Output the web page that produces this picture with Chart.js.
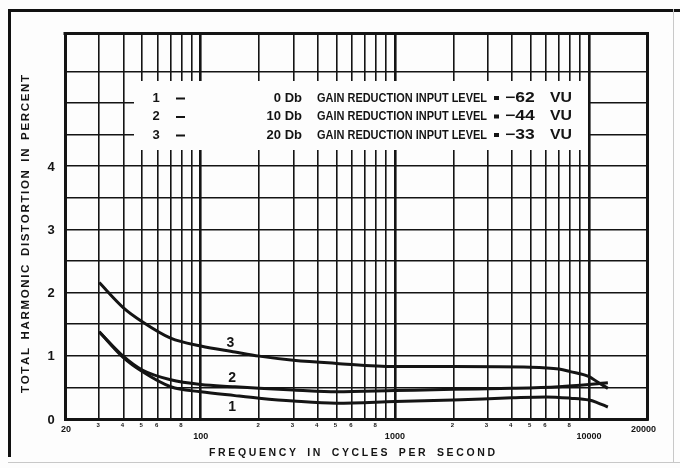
<!DOCTYPE html>
<html>
<head>
<meta charset="utf-8">
<script src="https://cdn.jsdelivr.net/npm/chart.js@4/dist/chart.umd.min.js"></script>
<style>
  html, body { margin: 0; padding: 0; background: #ffffff; }
  #wrap { width: 680px; height: 468px; position: relative; }
  canvas { display: block; }
</style>
</head>
<body>
<div id="wrap"><canvas id="c" width="680" height="468"></canvas></div>
<script>
// ---- data ----
const freqs1 = [30, 40, 50, 70, 100, 150, 200, 300, 500, 1000, 2000, 4000, 6000, 8000, 10000, 11000, 12500];
const thd1   = [1.38, 0.97, 0.75, 0.51, 0.43, 0.37, 0.33, 0.285, 0.25, 0.275, 0.30, 0.335, 0.35, 0.33, 0.30, 0.26, 0.19];

const freqs2 = [30, 40, 50, 70, 100, 150, 200, 300, 500, 1000, 2000, 4000, 7000, 10000, 12500];
const thd2   = [1.38, 0.99, 0.775, 0.62, 0.545, 0.51, 0.485, 0.46, 0.43, 0.45, 0.47, 0.485, 0.51, 0.545, 0.575];

const freqs3 = [30, 40, 50, 70, 100, 150, 200, 300, 500, 1000, 2000, 5000, 7000, 8000, 10000, 11000, 12500];
const thd3   = [2.16, 1.76, 1.54, 1.28, 1.155, 1.06, 0.995, 0.93, 0.88, 0.83, 0.83, 0.82, 0.79, 0.75, 0.67, 0.59, 0.485];

const curveNames = ['1', '2', '3'];
const curveLabelFreq = [145, 145, 142];
const curveLabelVal = [0.195, 0.64, 1.20];

const legendGain = ['0 Db', '10 Db', '20 Db'];
const legendText = 'GAIN REDUCTION INPUT LEVEL';
const legendLevel = ['\u221262', '\u221244', '\u221233'];
const legendUnit = 'VU';

const xGridVals = [20, 30, 40, 50, 60, 70, 80, 90, 100, 200, 300, 400, 500, 600, 700, 800, 900, 1000,
                   2000, 3000, 4000, 5000, 6000, 7000, 8000, 9000, 10000, 20000];
const majorXVals = [20, 100, 1000, 10000, 20000];
const majorXLabels = ['20', '100', '1000', '10000', '20000'];
const minorXVals = [30, 40, 50, 60, 80, 200, 300, 400, 500, 600, 800, 2000, 3000, 4000, 5000, 6000, 8000];
const minorXLabels = ['3', '4', '5', '6', '8', '2', '3', '4', '5', '6', '8', '2', '3', '4', '5', '6', '8'];
const yGridVals = [0, 0.5, 1, 1.5, 2, 2.5, 3, 3.5, 4, 4.5, 5, 5.5];
const yLabelVals = [0, 1, 2, 3, 4];
const yLabels = ['0', '1', '2', '3', '4'];

const xTitle = 'FREQUENCY IN CYCLES PER SECOND';
const yTitle = 'TOTAL HARMONIC DISTORTION IN PERCENT';

// ---- helpers ----
const INK = '#141414';
const FONT = '"Liberation Sans", Arial, sans-serif';

function spaced(ctx, text, x0, x1, y, spaceWeight) {
  const chars = [...text];
  const widths = chars.map(c => ctx.measureText(c).width);
  const total = widths.reduce((a, b) => a + b, 0);
  let slots = 0;
  chars.forEach((c, i) => { if (i < chars.length - 1) slots += (c === ' ' ? spaceWeight : 1); });
  const extra = (x1 - x0 - total) / slots;
  let x = x0;
  ctx.textAlign = 'left';
  chars.forEach((c, i) => {
    ctx.fillText(c, x, y);
    x += widths[i] + (c === ' ' ? extra * spaceWeight : extra);
  });
}

// draw text stretched horizontally (limited) towards x1
function fitText(ctx, text, x0, x1, y, maxScale) {
  const w = ctx.measureText(text).width;
  const s = Math.min(maxScale, (x1 - x0) / w);
  ctx.save();
  ctx.translate(x0, y);
  ctx.scale(s, 1);
  ctx.textAlign = 'left';
  ctx.fillText(text, 0, 0);
  ctx.restore();
}

const decorPlugin = {
  id: 'decor',
  beforeDraw(chart) {
    const ctx = chart.ctx;
    ctx.save();
    ctx.fillStyle = '#fdfdfd';
    ctx.fillRect(0, 0, chart.width, chart.height);
    ctx.restore();
  },
  beforeDatasetsDraw(chart) {
    const ctx = chart.ctx, a = chart.chartArea;
    ctx.save();
    // legend panel blanking the grid
    ctx.fillStyle = '#fdfdfd';
    ctx.fillRect(134, 81, 588 - 134, 150 - 81);
    // top and right border of the plot
    ctx.strokeStyle = INK;
    ctx.lineWidth = 3;
    ctx.beginPath();
    ctx.moveTo(a.left - 1.5, a.top);
    ctx.lineTo(a.right, a.top);
    ctx.lineTo(a.right, a.bottom + 1.5);
    ctx.stroke();
    ctx.restore();
  },
  afterDraw(chart) {
    const ctx = chart.ctx;
    const xs = chart.scales.x, ys = chart.scales.y;
    ctx.save();
    ctx.fillStyle = INK;
    ctx.textBaseline = 'middle';

    // y tick labels
    ctx.font = 'bold 13px ' + FONT;
    ctx.textAlign = 'center';
    yLabelVals.forEach((v, i) => ctx.fillText(yLabels[i], 51, ys.getPixelForValue(v) + 1));

    // x major labels
    ctx.font = 'bold 9px ' + FONT;
    majorXVals.forEach((v, i) => {
      const edge = (i === 0 || i === majorXVals.length - 1);
      const px = xs.getPixelForValue(v) + (i === 0 ? 1 : (i === majorXVals.length - 1 ? -4 : 0));
      ctx.fillText(majorXLabels[i], px, edge ? 430 : 436.5);
    });
    // x minor labels
    ctx.font = 'bold 6px ' + FONT;
    minorXVals.forEach((v, i) => ctx.fillText(minorXLabels[i], xs.getPixelForValue(v) - 1, 425));

    // axis titles
    ctx.font = 'bold 10.5px ' + FONT;
    spaced(ctx, xTitle, 209, 495, 453, 2.2);
    ctx.save();
    ctx.translate(26, 393);
    ctx.rotate(-Math.PI / 2);
    ctx.font = 'bold 11.5px ' + FONT;
    spaced(ctx, yTitle, 0, 318, 0, 2.2);
    ctx.restore();

    // legend rows
    const rowY = [98, 116.5, 135];
    rowY.forEach((y, i) => {
      ctx.font = 'bold 13px ' + FONT;
      ctx.textAlign = 'center';
      ctx.fillText(curveNames[i], 156, y);
      ctx.fillRect(176, y - 0.5, 9, 2);
      ctx.textAlign = 'right';
      ctx.fillText(legendGain[i], 302, y, 36);
      ctx.textAlign = 'left';
      ctx.fillText(legendText, 317, y, 170);
      ctx.fillRect(494, y - 2, 5, 4);
      ctx.font = 'bold 14px ' + FONT;
      fitText(ctx, legendLevel[i], 505, 541, y, 1.25);
      fitText(ctx, legendUnit, 550, 572, y, 1.15);
    });

    // curve number labels
    ctx.font = 'bold 14px ' + FONT;
    ctx.textAlign = 'center';
    curveNames.forEach((n, i) => {
      ctx.fillText(n, xs.getPixelForValue(curveLabelFreq[i]), ys.getPixelForValue(curveLabelVal[i]));
    });

    // photo frame
    ctx.fillStyle = '#111';
    ctx.fillRect(8, 9, chart.width - 8, 3);
    ctx.fillRect(8, 9, 3, 448);
    ctx.fillStyle = '#c8c8c8';
    ctx.fillRect(8, 462, chart.width - 8, 1);
    ctx.fillRect(673, 9, 1, 454);
    ctx.restore();
  }
};

function mk(f, v) { return f.map((x, i) => ({ x: x, y: v[i] })); }

const lineStyle = {
  borderColor: INK, borderWidth: 3, pointRadius: 0, fill: false,
  cubicInterpolationMode: 'monotone', borderCapStyle: 'butt'
};

new Chart(document.getElementById('c'), {
  type: 'line',
  data: {
    datasets: [
      Object.assign({ label: '1', data: mk(freqs1, thd1) }, lineStyle),
      Object.assign({ label: '2', data: mk(freqs2, thd2) }, lineStyle),
      Object.assign({ label: '3', data: mk(freqs3, thd3) }, lineStyle)
    ]
  },
  options: {
    responsive: false,
    animation: false,
    devicePixelRatio: 1,
    layout: { padding: { left: 65, right: 32.5, top: 33.5, bottom: 49 } },
    plugins: { legend: { display: false }, tooltip: { enabled: false }, title: { display: false } },
    scales: {
      x: {
        type: 'logarithmic', min: 20, max: 20000,
        afterBuildTicks: s => { s.ticks = xGridVals.map(v => ({ value: v })); },
        ticks: { display: false },
        grid: {
          drawTicks: false, color: INK,
          lineWidth: c => (c.tick && [100, 1000, 10000].includes(c.tick.value)) ? 2.6 : 1.6
        },
        border: { display: true, color: INK, width: 3 }
      },
      y: {
        type: 'linear', min: 0, max: 6.1,
        afterBuildTicks: s => { s.ticks = yGridVals.map(v => ({ value: v })); },
        ticks: { display: false },
        grid: { drawTicks: false, color: INK, lineWidth: 1.6 },
        border: { display: true, color: INK, width: 3 }
      }
    }
  },
  plugins: [decorPlugin]
});
</script>
</body>
</html>
